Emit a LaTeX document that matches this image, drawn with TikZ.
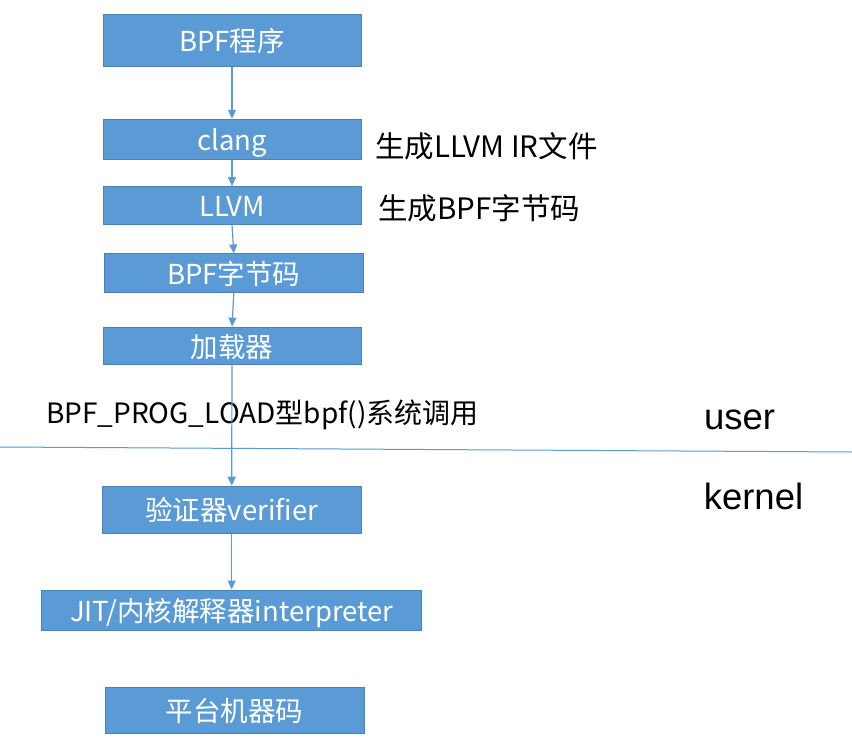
\documentclass[tikz,border=0pt]{standalone}
\usepackage{fontspec}
\setmainfont{Noto Sans CJK SC}
\newfontfamily\latinsans{Liberation Sans}
\usetikzlibrary{arrows.meta}
\definecolor{boxfill}{HTML}{5B9BD5}
\definecolor{boxline}{HTML}{4A82B8}
\definecolor{arrowcol}{HTML}{5B9BD5}
\tikzset{
  stepbox/.style={draw=boxline, line width=1pt, fill=boxfill, text=white, inner sep=0pt,
    font=\fontsize{27.5}{32}\selectfont, minimum width=258pt, text height=22pt, text depth=0pt},
  flow/.style={draw=arrowcol, line width=1.2pt, -{Triangle[length=9pt,width=8pt]}},
  note/.style={inner sep=0pt, text=black, font=\fontsize{29.5}{34}\selectfont},
  side/.style={inner sep=0pt, text=black, font=\latinsans\fontsize{36.5}{40}\selectfont}
}
\begin{document}
\begin{tikzpicture}[x=1pt,y=-1pt]
\useasboundingbox[fill=white] (0,0) rectangle (852,752);
\node[stepbox, minimum height=52pt] (bpf) at (232,40.3) {BPF程序};
\node[stepbox, minimum height=40pt] (clang) at (232,139.3) {clang};
\node[stepbox, minimum height=37.6pt] (llvm) at (232,205.5) {LLVM};
\node[stepbox, minimum height=38.7pt, minimum width=259pt] (bytecode) at (233.8,273.3) {BPF字节码};
\node[stepbox, minimum height=37.7pt] (loader) at (232,346) {加载器};
\node[stepbox, minimum height=47pt, minimum width=259pt] (verifier) at (231.7,509.7) {验证器verifier};
\node[stepbox, minimum height=40pt, minimum width=380pt] (jit) at (231.7,610) {JIT/内核解释器interpreter};
\node[stepbox, minimum height=46pt, minimum width=258.7pt] (machine) at (234.7,710.3) {平台机器码};

\coordinate (sepL) at (0,447);
\coordinate (sepR) at (852,452);
\draw[draw=arrowcol, line width=1pt] (sepL) -- (sepR);

\node[note, anchor=west] (ir) at (375,146) {生成LLVM IR文件};
\node[note, anchor=west] (gen) at (378,208) {生成BPF字节码};
\node[note, anchor=west, font=\fontsize{28}{32}\selectfont] (syscall) at (46,415) {BPF\_PROG\_LOAD型bpf()系统调用};
\node[side] (user) at (739.5,420) {user};
\node[side] (kernel) at (753.5,496) {kernel};

\draw[flow] (bpf.south) -- (clang.north);
\draw[flow] (clang.south) -- (llvm.north);
\draw[flow] (llvm.south) -- (bytecode.north);
\draw[flow] (bytecode.south) -- (loader.north);
\draw[flow] (loader.south) -- (verifier.north);
\draw[flow] (verifier.south) -- (jit.north);
\end{tikzpicture}
\end{document}
